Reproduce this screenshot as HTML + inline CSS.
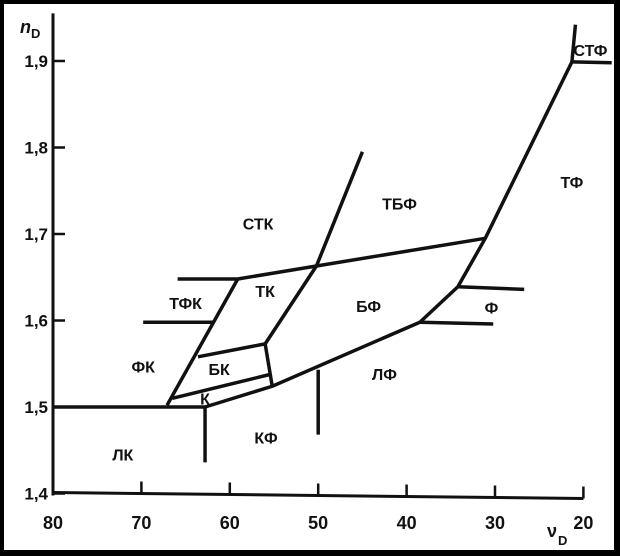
<!DOCTYPE html>
<html><head><meta charset="utf-8"><style>
html,body{margin:0;padding:0;background:#000;}
#wrap{width:620px;height:556px;position:relative;}
svg{display:block;}
text{font-family:"Liberation Sans","DejaVu Sans",sans-serif;font-weight:bold;fill:#111;}
</style></head><body>
<div id="wrap">
<svg id="chart" width="620" height="556">
<rect x="4" y="4" width="610" height="546" fill="#fff"/>
</svg>
</div>
<script>
const xTicks = [80,70,60,50,40,30,20];
const yTicks = [1.9,1.8,1.7,1.6,1.5,1.4];
const yTickLabels = ["1,9","1,8","1,7","1,6","1,5","1,4"];
// boundary polylines as [nu, n] pairs
const boundaries = [
 [[80,1.5],[62.8,1.5]],
 [[62.8,1.5],[62.8,1.436]],
 [[62.8,1.5],[55.2,1.524],[38.5,1.598],[34.2,1.639],[31.1,1.695],[21.3,1.899],[20.9,1.942]],
 [[38.5,1.598],[30.2,1.596]],
 [[34.2,1.639],[26.7,1.636]],
 [[21.3,1.899],[16.8,1.898]],
 [[50,1.543],[50,1.468]],
 [[67.1,1.502],[59.1,1.648]],
 [[69.8,1.598],[61.9,1.598]],
 [[65.9,1.648],[59.1,1.648],[50.2,1.663],[31.1,1.695]],
 [[63.6,1.558],[56.0,1.573]],
 [[66.5,1.510],[55.3,1.538]],
 [[56.0,1.573],[55.2,1.524]],
 [[56.0,1.573],[50.2,1.663],[45.0,1.795]]
];
const regionNames = ["СТК","ТБФ","ТФ","СТФ","ТФК","ТК","БФ","Ф","ФК","БК","К","ЛФ","КФ","ЛК"];
const regionNu = [56.8,40.8,21.3,19.2,65.0,56.0,44.3,30.4,69.8,61.2,62.8,42.5,55.9,72.1];
const regionN = [1.712,1.735,1.760,1.913,1.620,1.634,1.617,1.615,1.547,1.544,1.510,1.538,1.465,1.445];

const svg = document.getElementById('chart');
const NS = 'http://www.w3.org/2000/svg';
const X = nu => 53 + (80 - nu) * 8.84;
const Y = n => 407 - (n - 1.5) * 865;
function mk(tag, attrs){const e=document.createElementNS(NS,tag);for(const k in attrs)e.setAttribute(k,attrs[k]);svg.appendChild(e);return e;}

let a = mk('line',{x1:X(80),y1:Y(1.955),x2:X(80),y2:Y(1.4)+2,stroke:'#111','stroke-width':3});


a = mk('line',{x1:X(80),y1:Y(1.4)-1,x2:X(20),y2:Y(1.4)+5,stroke:'#111','stroke-width':3});



xTicks.forEach((v,i)=>{
  const yb = Y(1.4)-1 + 6*(80-v)/60;
  const t = mk('line',{x1:X(v),y1:yb,x2:X(v),y2:yb-12,stroke:'#111','stroke-width':2.5});
  
  
  const l = mk('text',{x:X(v),y:529,'font-size':18,'text-anchor':'middle'});
  l.textContent = v;
  
  
});
yTicks.forEach((v,i)=>{
  const t = mk('line',{x1:X(80),y1:Y(v),x2:X(80)+12,y2:Y(v),stroke:'#111','stroke-width':2.5});
  
  
  const l = mk('text',{x:48,y:Y(v)+6,'font-size':17,'text-anchor':'end'});
  l.textContent = yTickLabels[i];
  
  
});
let t = mk('text',{x:20,y:33,'font-size':18,'font-style':'italic'});
t.textContent='n';


t = mk('text',{x:31,y:38,'font-size':13});
t.textContent='D';


t = mk('text',{x:547,y:537,'font-size':18});
t.textContent='ν';


t = mk('text',{x:558,y:545,'font-size':13});
t.textContent='D';



boundaries.forEach(b=>{
  const p = mk('polyline',{points:b.map(q=>X(q[0])+','+Y(q[1])).join(' '),fill:'none',stroke:'#111','stroke-width':3.5,'stroke-linejoin':'round'});
  
  
});
regionNames.forEach((nm,i)=>{
  const l = mk('text',{x:X(regionNu[i]),y:Y(regionN[i])+6,'font-size':16,'text-anchor':'middle'});
  l.textContent = nm;
  
  
});
</script>
</body></html>
